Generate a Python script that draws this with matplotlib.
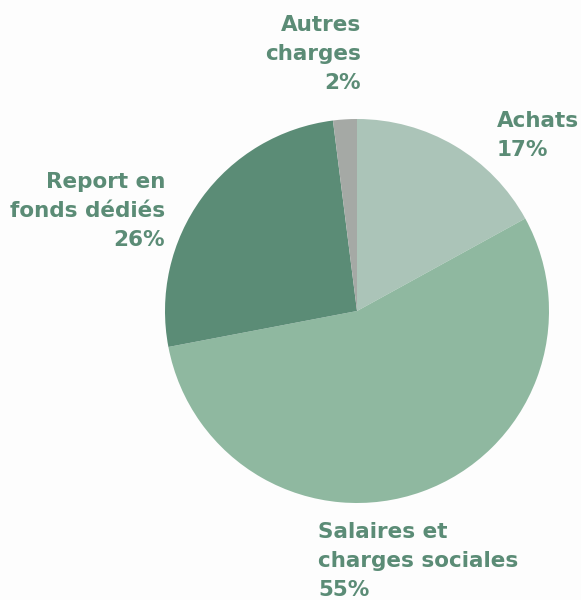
import matplotlib.pyplot as plt

# Données du graphique
categories = ["Achats", "Salaires et\ncharges sociales", "Report en\nfonds dédiés", "Autres\ncharges"]
valeurs = [17, 55, 26, 2]
couleurs = ["#abc4b8", "#8fb8a0", "#5b8c76", "#a5a9a5"]

# Position des étiquettes (pixels figure) et alignement
etiquettes_pos = [(497, 111, "left"), (318, 522, "left"), (165, 172, "right"), (361, 15, "right")]

W, H = 581, 600
fig = plt.figure(figsize=(W / 100, H / 100), dpi=100)
fig.patch.set_facecolor("#fdfdfd")

cx, cy, r = 357, 311, 192
ax = fig.add_axes([(cx - r) / W, (H - cy - r) / H, 2 * r / W, 2 * r / H])
ax.pie(valeurs, colors=couleurs, startangle=90, counterclock=False, radius=1,
       wedgeprops=dict(linewidth=0))
ax.set_xlim(-1, 1)
ax.set_ylim(-1, 1)
ax.set_aspect("equal")
ax.axis("off")

for cat, val, (px, py, ha) in zip(categories, valeurs, etiquettes_pos):
    fig.text(px / W, 1 - py / H, f"{cat}\n{val}%", ha=ha, va="top",
             fontsize=15.5, fontweight="bold", color="#5b8c76",
             family="DejaVu Sans", linespacing=1.57)

fig.savefig("out.png", dpi=100, facecolor=fig.get_facecolor())
